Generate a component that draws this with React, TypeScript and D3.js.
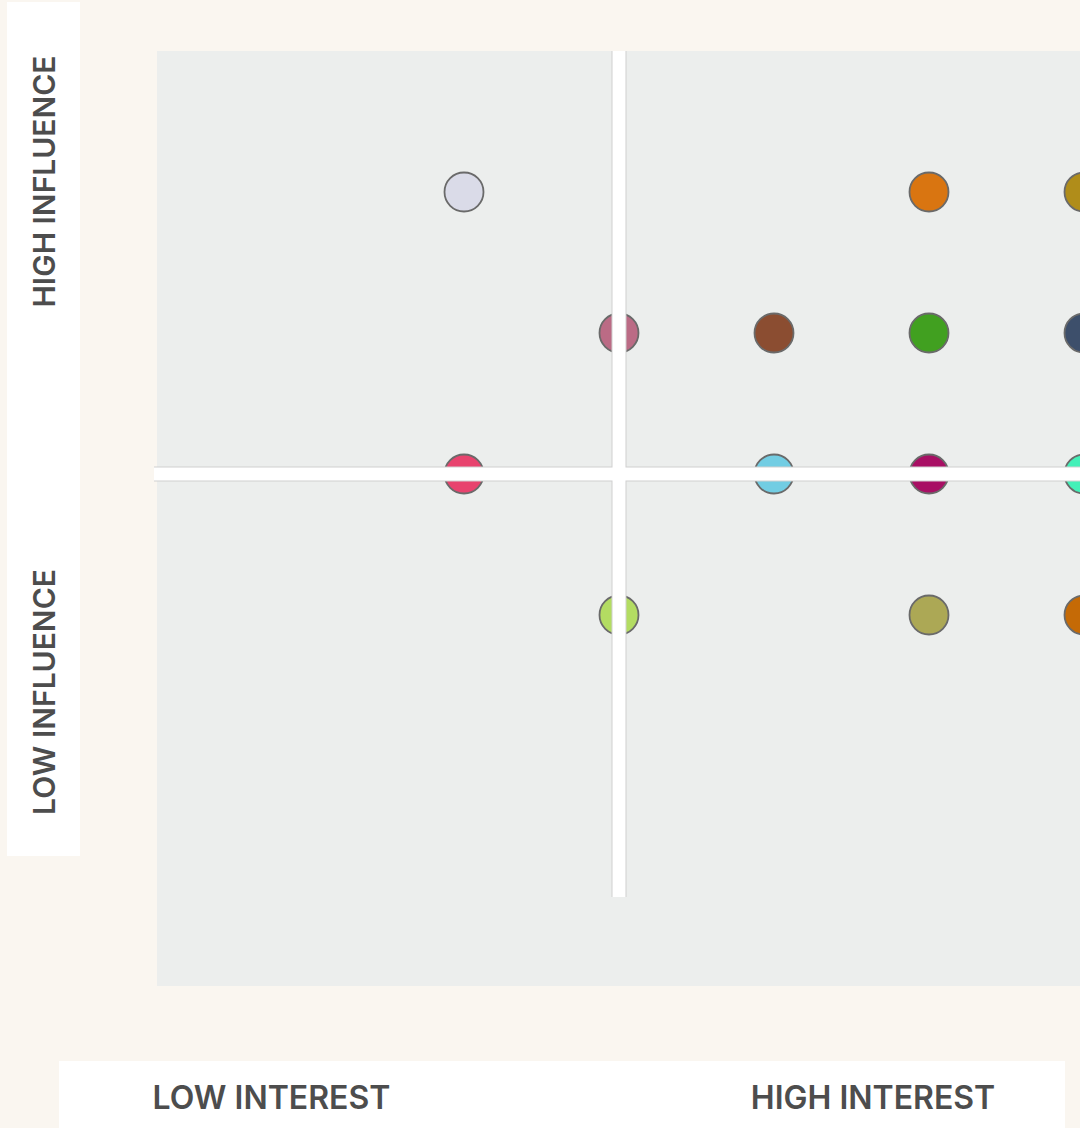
import React, { useEffect } from 'react';
import * as d3 from 'd3';

// stakeholder grid: interest (0-6) vs influence (0-6)
const interest = [2, 5, 6, 3, 4, 5, 6, 2, 4, 5, 6, 3, 5, 6];
const influence = [5, 5, 5, 4, 4, 4, 4, 3, 3, 3, 3, 2, 2, 2];
const colors = [
  '#dadbe8', '#d97511', '#b08d1a',
  '#bb6b85', '#8b4d31', '#41a020', '#3d4f6b',
  '#e8436e', '#72cde3', '#a80f64', '#43f0b8',
  '#b3dc62', '#aca855', '#c56a06'
];
const yLabels = ['HIGH INFLUENCE', 'LOW INFLUENCE'];
const xLabels = ['LOW INTEREST', 'HIGH INTEREST'];

const W = 1080;
const H = 1128;
const FONT = 'Inter, "Open Sans", sans-serif';

export default function App() {
  useEffect(() => {
    document.body.style.margin = '0';
  }, []);

  const x = d3.scaleLinear().domain([0, 6]).range([154, 1084]);
  const y = d3.scaleLinear().domain([0, 6]).range([897, 51]);

  const midX = x(3);
  const midY = y(3);
  const band = 13;

  return (
    <svg width={W} height={H} style={{ display: 'block' }}>
      <rect x={0} y={0} width={W} height={H} fill="#faf6f0" />

      {/* plot area */}
      <rect x={157} y={51} width={W - 157} height={935} fill="#eceeed" />

      {/* points */}
      {interest.map((v, i) => (
        <circle
          key={i}
          cx={x(v)}
          cy={y(influence[i])}
          r={19.5}
          fill={colors[i]}
          stroke="#6a6a6a"
          strokeWidth={1.8}
        />
      ))}

      {/* crosshair: grey edges first, white fill on top */}
      <rect x={midX - band / 2 - 1} y={y(6)} width={band + 2} height={y(0) - y(6)} fill="#cfcfcf" />
      <rect x={x(0)} y={midY - band / 2 - 1} width={W - x(0)} height={band + 2} fill="#cfcfcf" />
      <rect x={midX - band / 2} y={y(6)} width={band} height={y(0) - y(6)} fill="#ffffff" />
      <rect x={x(0)} y={midY - band / 2} width={W - x(0)} height={band} fill="#ffffff" />

      {/* left label panel */}
      <rect x={7} y={2} width={73} height={854} fill="#ffffff" />
      {yLabels.map((t, i) => (
        <text
          key={t}
          transform={`translate(55,${i === 0 ? 181.5 : 692}) rotate(-90)`}
          textAnchor="middle"
          fontFamily={FONT}
          fontWeight={600}
          fontSize={30}
          fill="#4d4d4d"
        >
          {t}
        </text>
      ))}

      {/* bottom label panel */}
      <rect x={59} y={1061} width={1006} height={H - 1061} fill="#ffffff" />
      {xLabels.map((t, i) => (
        <text
          key={t}
          x={i === 0 ? 271.5 : 873}
          y={1109}
          textAnchor="middle"
          fontFamily={FONT}
          fontWeight={600}
          fontSize={32}
          fill="#4d4d4d"
        >
          {t}
        </text>
      ))}
    </svg>
  );
}
